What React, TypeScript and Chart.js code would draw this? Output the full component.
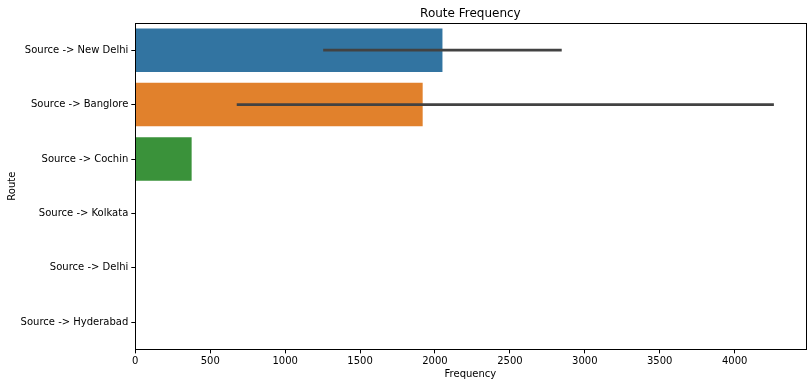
import React, { useEffect, useRef } from "react";
import { Chart, registerables } from "chart.js";

Chart.register(...registerables);

const routes = [
  "Source -> New Delhi",
  "Source -> Banglore",
  "Source -> Cochin",
  "Source -> Kolkata",
  "Source -> Delhi",
  "Source -> Hyderabad",
];
const frequency = [2050, 1918, 376, 0, 0, 0];
const ciLow = [1254, 677, null, null, null, null];
const ciHigh = [2846, 4262, null, null, null, null];
const xTicks = [0, 500, 1000, 1500, 2000, 2500, 3000, 3500, 4000];

const barColors = ["#3274a1", "#e1812c", "#3a923a", "#c03d3e", "#9372b2", "#845b53"];
const FONT = "'DejaVu Sans', sans-serif";

const errorBarPlugin = {
  id: "errorBars",
  afterDatasetsDraw(chart: any) {
    const { ctx, scales } = chart;
    const xs = scales.x;
    const ys = scales.y;
    ctx.save();
    ctx.strokeStyle = "#424242";
    ctx.lineWidth = 2.7;
    ctx.lineCap = "butt";
    for (let i = 0; i < routes.length; i++) {
      const lo = ciLow[i];
      const hi = ciHigh[i];
      if (lo == null || hi == null) continue;
      const y = ys.getPixelForValue(i);
      ctx.beginPath();
      ctx.moveTo(xs.getPixelForValue(lo), y);
      ctx.lineTo(xs.getPixelForValue(hi), y);
      ctx.stroke();
    }
    ctx.restore();
  },
  afterDraw(chart: any) {
    const { ctx, chartArea } = chart;
    ctx.save();
    ctx.strokeStyle = "#000000";
    ctx.lineWidth = 1;
    ctx.strokeRect(
      Math.round(chartArea.left) + 0.5,
      Math.round(chartArea.top) + 0.5,
      Math.round(chartArea.right) - Math.round(chartArea.left),
      Math.round(chartArea.bottom) - Math.round(chartArea.top)
    );
    ctx.restore();
  },
};

export default function App() {
  const canvasRef = useRef<HTMLCanvasElement | null>(null);

  useEffect(() => {
    document.body.style.margin = "0";
    const canvas = canvasRef.current;
    if (!canvas) return;
    const chart = new Chart(canvas, {
      type: "bar",
      data: {
        labels: routes,
        datasets: [
          {
            data: frequency,
            backgroundColor: barColors,
            borderWidth: 0,
            categoryPercentage: 0.8,
            barPercentage: 1.0,
          },
        ],
      },
      options: {
        indexAxis: "y",
        animation: false,
        responsive: false,
        maintainAspectRatio: false,
        layout: { padding: { left: 0, right: 6.5, top: 0, bottom: 0 } },
        plugins: {
          legend: { display: false },
          tooltip: { enabled: false },
          title: {
            display: true,
            fullSize: false,
            text: "Route Frequency",
            color: "#000",
            font: { family: FONT, size: 12, weight: "normal" },
            padding: { top: 6.5, bottom: 2.1 },
          },
        },
        scales: {
          x: {
            type: "linear",
            min: 0,
            max: 4473,
            afterFit(scale: any) {
              scale.height = 37.6;
            },
            afterBuildTicks(scale: any) {
              scale.ticks = xTicks.map((v) => ({ value: v }));
            },
            grid: {
              display: true,
              drawOnChartArea: false,
              drawTicks: true,
              tickLength: 4,
              color: "#000",
            },
            border: { display: true, color: "#000" },
            ticks: {
              color: "#000",
              padding: 2,
              maxRotation: 0,
              autoSkip: false,
              font: { family: FONT, size: 10 },
              callback: (v: any) => String(v),
            },
            title: {
              display: true,
              text: "Frequency",
              color: "#000",
              font: { family: FONT, size: 10 },
              padding: { top: 0, bottom: 7 },
            },
          },
          y: {
            type: "category",
            offset: true,
            afterFit(scale: any) {
              scale.width = 135.3;
            },
            grid: {
              display: true,
              offset: false,
              drawOnChartArea: false,
              drawTicks: true,
              tickLength: 4,
              color: "#000",
            },
            border: { display: true, color: "#000" },
            ticks: {
              color: "#000",
              padding: 3,
              autoSkip: false,
              font: { family: FONT, size: 10 },
            },
            title: {
              display: true,
              text: "Route",
              color: "#000",
              font: { family: FONT, size: 10 },
              padding: { top: 6, bottom: 6 },
            },
          },
        },
      },
      plugins: [errorBarPlugin],
    } as any);
    return () => chart.destroy();
  }, []);

  return (
    <div style={{ width: 812, height: 387, background: "#fff" }}>
      <canvas ref={canvasRef} width={812} height={387} style={{ width: 812, height: 387 }} />
    </div>
  );
}
